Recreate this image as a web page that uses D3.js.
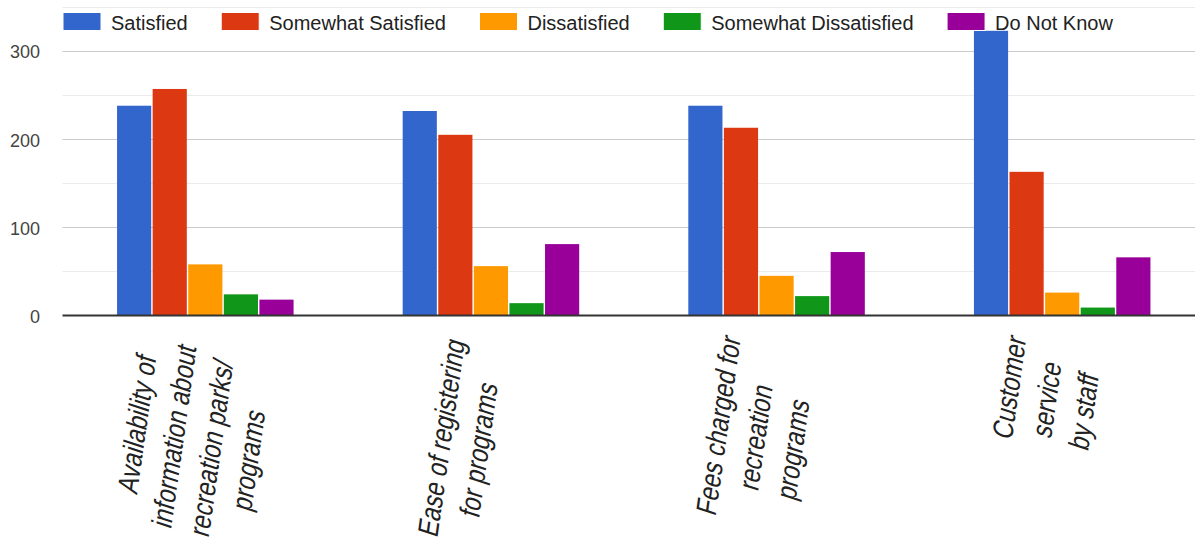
<!DOCTYPE html>
<html>
<head>
<meta charset="utf-8">
<script src="https://cdn.jsdelivr.net/npm/d3@7"></script>
<style>
  html, body { margin: 0; padding: 0; background: #fff; }
  svg { display: block; }
</style>
</head>
<body>
<svg id="chart" width="1195" height="540"></svg>
<script>
// ---- data ----
const categories = [
  ["Availability of", "information about", "recreation parks/", "programs"],
  ["Ease of registering", "for programs"],
  ["Fees charged for", "recreation", "programs"],
  ["Customer", "service", "by staff"]
];
const seriesNames = ["Satisfied", "Somewhat Satisfied", "Dissatisfied", "Somewhat Dissatisfied", "Do Not Know"];
const satisfied            = [238, 232, 238, 323];
const somewhatSatisfied    = [257, 205, 213, 163];
const dissatisfied         = [58, 56, 45, 26];
const somewhatDissatisfied = [24, 14, 22, 9];
const doNotKnow            = [18, 81, 72, 66];
const yTicks = [0, 100, 200, 300];
const yMinorTicks = [50, 150, 250, 350];

const seriesValues = [satisfied, somewhatSatisfied, dissatisfied, somewhatDissatisfied, doNotKnow];
const colors = ["#3366cc", "#dc3912", "#ff9900", "#109618", "#990099"];

// ---- layout ----
const svg = d3.select("#chart");
const W = 1195;
const plotLeft = 62.5, plotRight = 1205, yBase = 315.5, yTop = 7;

const x0 = d3.scaleBand().domain(d3.range(categories.length))
  .range([plotLeft, plotRight]).paddingInner(0.382).paddingOuter(0.191);
const x1 = d3.scaleBand().domain(d3.range(seriesNames.length))
  .range([0, x0.bandwidth()]).paddingInner(0.04);
const y = d3.scaleLinear().domain([0, 350]).range([yBase, yTop]);

// gridlines
const grid = svg.append("g");
grid.selectAll("line.minor").data(yMinorTicks).join("line")
  .attr("class", "minor")
  .attr("x1", plotLeft).attr("x2", W)
  .attr("y1", d => Math.round(y(d)) + 0.5).attr("y2", d => Math.round(y(d)) + 0.5)
  .attr("stroke", "#ebebeb").attr("stroke-width", 1);
grid.selectAll("line.major").data(yTicks.filter(d => d !== 0)).join("line")
  .attr("class", "major")
  .attr("x1", plotLeft).attr("x2", W)
  .attr("y1", d => Math.round(y(d)) + 0.5).attr("y2", d => Math.round(y(d)) + 0.5)
  .attr("stroke", "#cccccc").attr("stroke-width", 1);

// y axis labels via d3 axis
const yAxis = d3.axisLeft(y).tickValues(yTicks).tickSize(0).tickPadding(0).tickFormat(d3.format("d"));
const yAxisG = svg.append("g").attr("transform", "translate(40,0)").call(yAxis);
yAxisG.select(".domain").remove();
yAxisG.selectAll("text")
  .attr("font-family", "'Liberation Sans', Arial, sans-serif")
  .attr("font-size", 18)
  .attr("fill", "#444")
  .attr("dy", "0.38em");

// bars
const groups = svg.append("g").selectAll("g").data(categories.map((c, i) => i)).join("g")
  .attr("transform", i => `translate(${x0(i)},0)`);
groups.selectAll("rect").data(i => seriesValues.map((vals, s) => ({ s, v: vals[i] }))).join("rect")
  .attr("x", d => x1(d.s))
  .attr("width", x1.bandwidth())
  .attr("y", d => y(d.v))
  .attr("height", d => y(0) - y(d.v))
  .attr("fill", d => colors[d.s]);

// baseline
svg.append("line")
  .attr("x1", plotLeft).attr("x2", W)
  .attr("y1", y(0)).attr("y2", y(0))
  .attr("stroke", "#333").attr("stroke-width", 2);

// legend
const legend = svg.append("g");
let lx = 63;
seriesNames.forEach((name, i) => {
  legend.append("rect")
    .attr("x", lx).attr("y", 12.5).attr("width", 38).attr("height", 18)
    .attr("fill", colors[i]).attr("stroke", "#fff").attr("stroke-width", 1);
  const t = legend.append("text")
    .attr("x", lx + 48).attr("y", 29.5)
    .attr("font-family", "'Liberation Sans', Arial, sans-serif")
    .attr("font-size", 20)
    .attr("fill", "#222")
    .text(name);
  lx += 48 + t.node().getComputedTextLength() + 33.5;
});

// x labels (rotated, multi-line, condensed, slanted)
const probe = svg.append("text").attr("font-size", 29).text("Availability of information");
probe.attr("font-family", "'Liberation Sans Narrow'");
const wN = probe.node().getComputedTextLength();
probe.attr("font-family", "'Liberation Sans'");
const wR = probe.node().getComputedTextLength();
probe.remove();
const hasNarrow = wN / wR < 0.9;
const labelFont = hasNarrow ? "'Liberation Sans Narrow', 'Arial Narrow', sans-serif" : "'Liberation Sans', Arial, sans-serif";
const squeeze = hasNarrow ? 1 : 0.82;

const lineH = 38.5;
const lineShift = 8.9;
const labels = svg.append("g").selectAll("g").data(categories.map((c, i) => i)).join("g")
  .attr("transform", i => `translate(${x0(i) + x0.bandwidth() / 2 - 16},345.5) rotate(-82) skewX(-10) scale(${squeeze},1)`);
labels.each(function (i) {
  const g = d3.select(this);
  const lines = categories[i];
  const n = lines.length;
  const texts = g.selectAll("text").data(lines).join("text")
    .attr("font-family", labelFont)
    .attr("font-size", 29)
    .attr("fill", "#222")
    .attr("text-anchor", "middle")
    .attr("y", (d, k) => (k - (n - 1) / 2) * lineH + lineShift * (n - 1))
    .text(d => d);
  let maxLen = 0;
  texts.each(function () { maxLen = Math.max(maxLen, this.getComputedTextLength()); });
  texts.attr("x", -maxLen / 2);
});
</script>
</body>
</html>
